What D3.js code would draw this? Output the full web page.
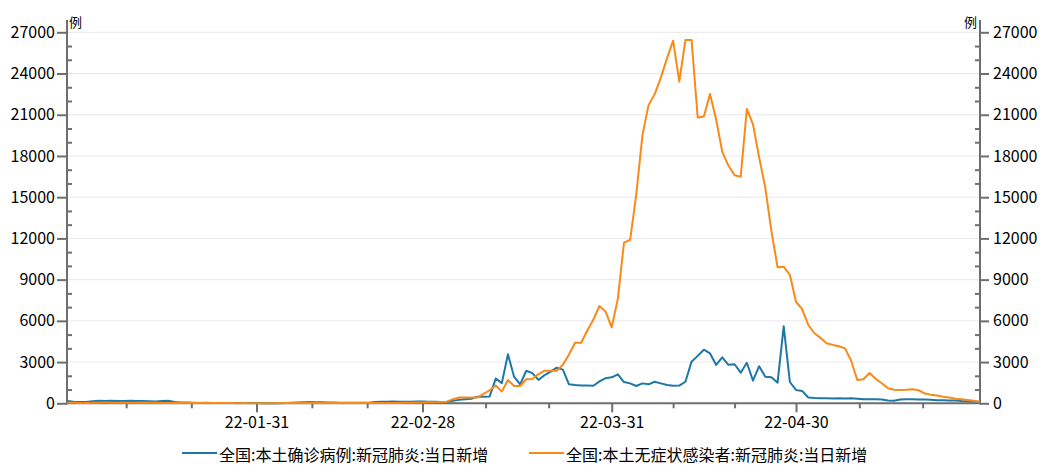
<!DOCTYPE html>
<html><head><meta charset="utf-8">
<script src="https://cdn.jsdelivr.net/npm/d3@7"></script>
<style>
html,body{margin:0;padding:0;background:#fff;}
svg{display:block;font-family:"Noto Sans CJK SC","Noto Sans",sans-serif;}
</style></head>
<body><svg id="chart" width="1044" height="473"></svg>
<script>
// ---- data (daily, 2022-01-01 .. 2022-05-30) ----
const startDate = new Date(2022, 0, 1);
const endDate = new Date(2022, 4, 30);
const seriesNames = ["全国:本土确诊病例:新冠肺炎:当日新增", "全国:本土无症状感染者:新冠肺炎:当日新增"];
const unitLabel = "例";
const yTicks = [0, 3000, 6000, 9000, 12000, 15000, 18000, 21000, 24000, 27000];
const xTickDates = ["2022-01-31", "2022-02-28", "2022-03-31", "2022-04-30"];

const confJan = [175,122,95,88,155,180,170,190,165,175,190,160,170,150,130,160,180,90,60,50,40,30,35,25,28,30,22,20,25,20,18];
const confFeb = [10,12,10,12,15,45,60,80,90,80,70,60,50,45,40,40,35,40,45,90,110,120,130,120,110,120,130,130];
const confMar = [120,110,100,120,180,250,290,330,480,480,500,1800,1470,3570,1940,1380,2370,2200,1700,2050,2300,2590,2450,1380,1330,1300,1290,1280,1600,1830,1890];
const confApr = [2110,1550,1450,1260,1450,1380,1570,1450,1330,1280,1290,1570,3030,3450,3900,3640,2790,3350,2800,2840,2230,2950,1650,2700,1940,1890,1500,5600,1550,970];
const confMay = [900,420,380,370,360,350,360,350,360,330,300,300,300,280,200,190,280,290,290,280,270,260,230,220,210,200,170,150,130,120];

const asymJan = [40,35,30,30,40,45,50,45,40,35,40,45,50,40,35,30,30,25,25,20,20,25,20,15,15,20,15,10,15,10,10];
const asymFeb = [10,10,10,15,15,20,30,30,35,30,30,25,25,20,20,20,20,25,25,20,20,25,30,30,35,40,50,60];
const asymMar = [70,80,90,120,300,420,420,420,420,680,950,1300,850,1700,1260,1260,1750,1770,2130,2370,2370,2370,2800,3550,4410,4410,5300,6100,7080,6670,5530];
const asymApr = [7600,11690,11890,15200,19500,21700,22500,23700,25100,26390,23410,26440,26440,20800,20880,22510,20650,18300,17300,16600,16490,21420,20300,17900,15700,12530,9900,9940,9350,7390];
const asymMay = [6850,5700,5100,4760,4370,4250,4150,4000,3100,1700,1750,2200,1780,1460,1100,980,970,980,1020,950,720,630,560,480,420,330,290,240,180,110];

const colors = ["#1f77a8", "#fa8a18"];

// ---- build ----
const dates = d3.timeDay.range(startDate, d3.timeDay.offset(endDate, 1));
const confirmed = [].concat(confJan, confFeb, confMar, confApr, confMay);
const asymptomatic = [].concat(asymJan, asymFeb, asymMar, asymApr, asymMay);
const parse = d3.timeParse("%Y-%m-%d");
const majorDates = xTickDates.map(parse);

const L = 67, R = 980, B = 403.3, T = 32.3;
const svg = d3.select("#chart");

// month-end anchored time scale (axis spacing follows the source chart's month slots)
const anchors = [parse("2021-12-31")].concat(majorDates, [parse("2022-05-31")]);
const x = d3.scaleTime().domain(anchors).range([61, 256.5, 422.5, 611.7, 796, 986]);
const y = d3.scaleLinear().domain([0, 27000]).range([B, T]);

// minor ticks: thirds between month ends
const minorX = [];
for (let i = 0; i < anchors.length - 1; i++) {
  const a = anchors[i].getTime(), b = anchors[i + 1].getTime();
  [1, 2].forEach(k => {
    const d = new Date(a + (b - a) * k / 3);
    if (x(d) > L && x(d) < R) minorX.push(d);
  });
}
const minorY = d3.range(1000, 27001, 1000).filter(v => v % 3000 !== 0);

const axisColor = "#6e6e6e";

// gridlines
svg.append("g").selectAll("line").data(yTicks.filter(v => v > 0)).join("line")
  .attr("x1", L).attr("x2", R).attr("y1", d => y(d)).attr("y2", d => y(d))
  .attr("stroke", "#e8e8e8").attr("stroke-width", 1);

function styleAxis(g) {
  g.select(".domain").remove();
  g.selectAll(".tick line").attr("stroke", axisColor).attr("stroke-width", 2);
  g.selectAll(".tick text").attr("fill", "#000").style("font-size", "16px")
    .style("font-family", '"Noto Sans CJK SC","Noto Sans",sans-serif');
}

// left axis
svg.append("g").attr("transform", `translate(${L},0)`)
  .call(d3.axisLeft(y).tickValues(yTicks).tickSize(10).tickPadding(2).tickFormat(d3.format("d")))
  .call(styleAxis);
svg.append("g").attr("transform", `translate(${L},0)`)
  .call(d3.axisRight(y).tickValues(minorY).tickSize(5).tickFormat(""))
  .call(styleAxis);
// right axis
svg.append("g").attr("transform", `translate(${R},0)`)
  .call(d3.axisRight(y).tickValues(yTicks).tickSize(9).tickPadding(4).tickFormat(d3.format("d")))
  .call(styleAxis);
svg.append("g").attr("transform", `translate(${R},0)`)
  .call(d3.axisLeft(y).tickValues(minorY).tickSize(5).tickFormat(""))
  .call(styleAxis);
// bottom axis
svg.append("g").attr("transform", `translate(0,${B})`)
  .call(d3.axisBottom(x).tickValues(majorDates).tickSize(9).tickPadding(4).tickFormat(d3.timeFormat("%y-%m-%d")))
  .call(styleAxis);
svg.append("g").attr("transform", `translate(0,${B})`)
  .call(d3.axisBottom(x).tickValues(minorX).tickSize(5).tickFormat(""))
  .call(styleAxis);

// axis lines
svg.append("line").attr("x1", L).attr("x2", L).attr("y1", 20).attr("y2", B + 1)
  .attr("stroke", axisColor).attr("stroke-width", 2);
svg.append("line").attr("x1", R).attr("x2", R).attr("y1", 20).attr("y2", B + 1)
  .attr("stroke", axisColor).attr("stroke-width", 2);
svg.append("line").attr("x1", L - 1).attr("x2", R + 1).attr("y1", B).attr("y2", B)
  .attr("stroke", axisColor).attr("stroke-width", 2);

// unit labels
svg.append("text").attr("x", 69).attr("y", 27).text(unitLabel)
  .style("font-size", "13px").attr("fill", "#000");
svg.append("text").attr("x", 977).attr("y", 27).attr("text-anchor", "end").text(unitLabel)
  .style("font-size", "13px").attr("fill", "#000");

// lines
const line = d3.line().x((d, i) => x(dates[i])).y(d => y(d));
[confirmed, asymptomatic].forEach((s, k) => {
  svg.append("path").datum(s).attr("d", line)
    .attr("fill", "none").attr("stroke", colors[k]).attr("stroke-width", 2)
    .attr("stroke-linejoin", "round");
});

// legend
const legendPos = [{lx: 182, tx: 219}, {lx: 529, tx: 566}];
seriesNames.forEach((name, k) => {
  const g = svg.append("g");
  g.append("line").attr("x1", legendPos[k].lx).attr("x2", legendPos[k].lx + 35)
    .attr("y1", 453).attr("y2", 453).attr("stroke", colors[k]).attr("stroke-width", 2);
  g.append("text").attr("x", legendPos[k].tx).attr("y", 454).attr("dominant-baseline", "central")
    .text(name).style("font-size", "16px").attr("fill", "#000");
});
</script></body></html>
